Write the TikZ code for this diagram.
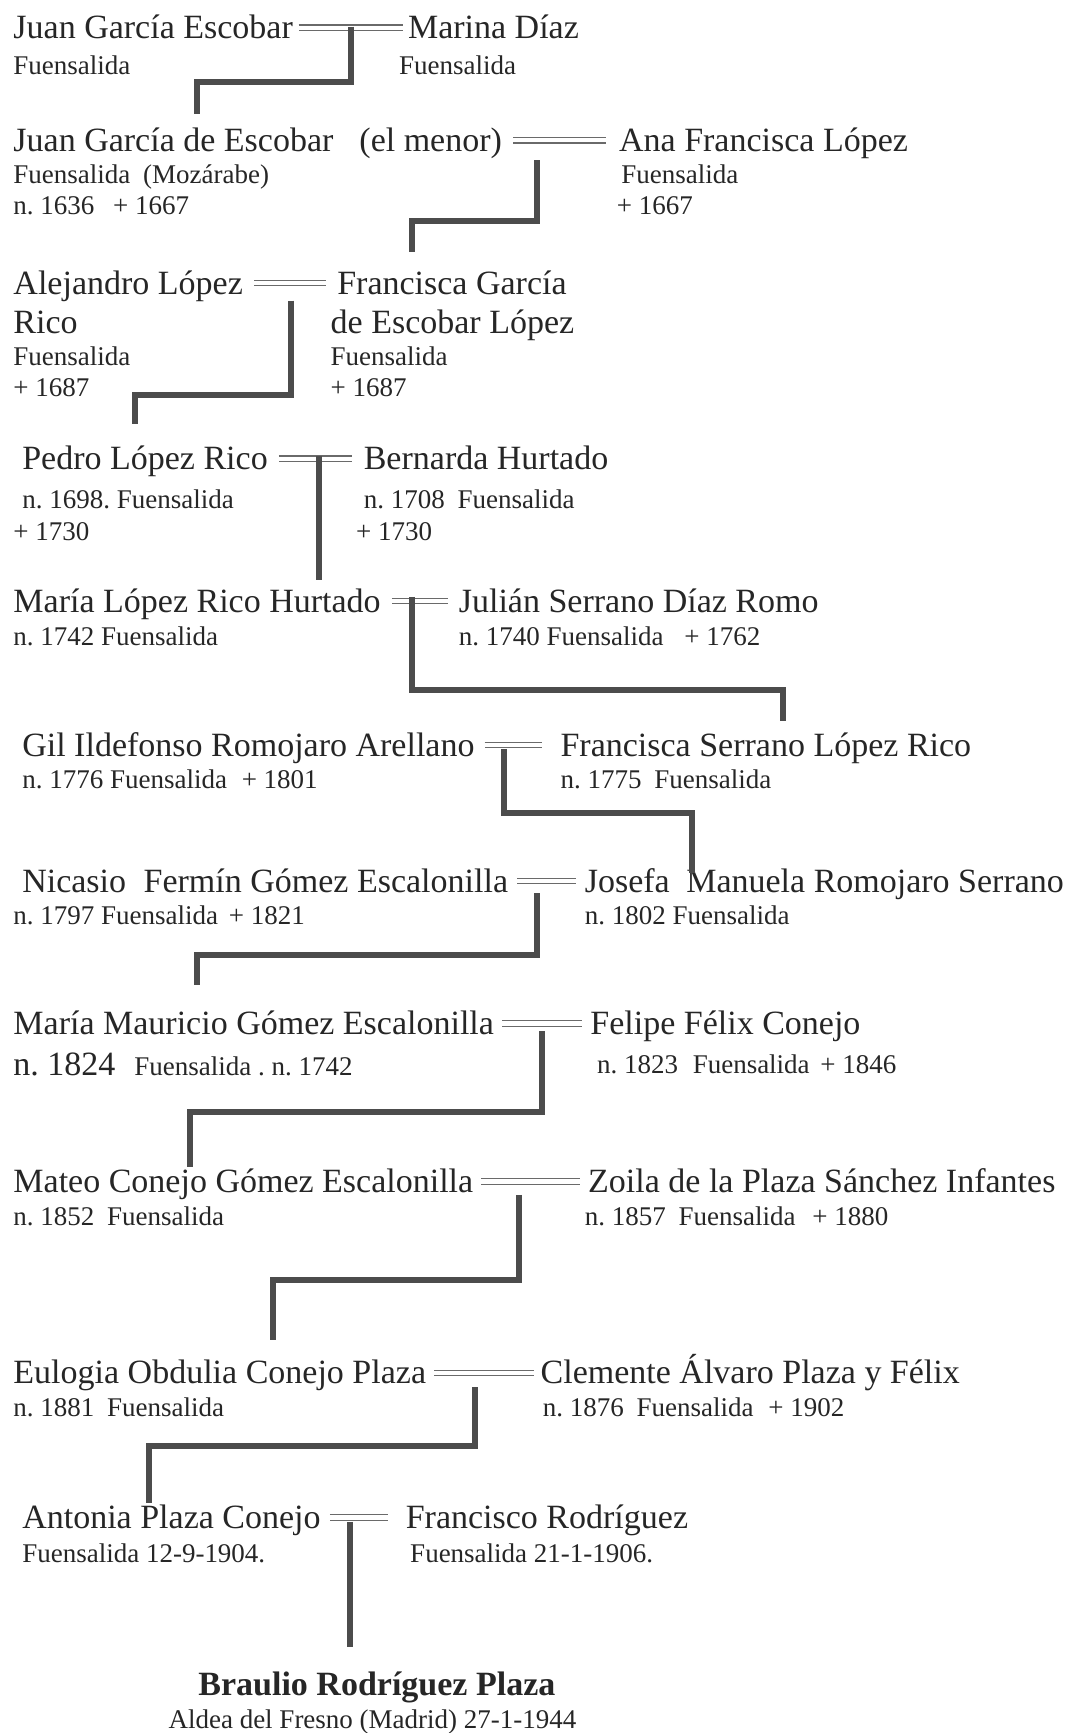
\documentclass[tikz,border=0pt]{standalone}
\usepackage{fontspec}
\setmainfont{Liberation Serif}
\frenchspacing
\definecolor{txt}{HTML}{262626}
\definecolor{lcol}{HTML}{6A6A6A}
\definecolor{ccol}{HTML}{4C4C4C}
\newcommand{\smf}{\fontsize{27}{32}\selectfont}
\tikzset{
  nm/.style={anchor=west, inner sep=0pt, font=\fontsize{34}{40}\selectfont, text height=22.4pt, text depth=0pt, text=txt},
  sm/.style={anchor=west, inner sep=0pt, font=\smf, text height=17.8pt, text depth=0pt, text=txt},
  bd/.style={inner sep=0pt, font=\fontsize{34}{40}\selectfont\bfseries, text height=22.4pt, text depth=0pt, text=txt},
  smc/.style={inner sep=0pt, font=\smf, text height=17.8pt, text depth=0pt, text=txt},
  marr/.style={draw=lcol, double=white, double distance=4.2pt, line width=1.1pt},
  conn/.style={draw=ccol, line width=6pt, line join=miter, line cap=butt},
}
\begin{document}
\begin{tikzpicture}[x=1.1054pt, y=-1.1054pt]
\fill[white] (0,0) rectangle (968,1568);
\useasboundingbox (0,0) rectangle (968,1568);

% Row 1
\node[nm] (p1a) at (12,25) {Juan García Escobar};
\node[sm] (p1a1) at (12,59) {Fuensalida};
\node[nm] (p1b) at (369,25) {Marina Díaz};
\node[sm] (p1b1) at (361,59) {Fuensalida};
\draw[marr, shorten <=5.5pt, shorten >=4.5pt] (p1a.east) -- (p1b.west);

% Row 2
\node[nm] (p2a) at (12,127) {Juan García de Escobar\hspace{17.5pt} (el menor)};
\node[sm] (p2a1) at (12,158) {Fuensalida\hspace{6pt} (Mozárabe)};
\node[sm] (p2a2) at (12,186) {n. 1636\hspace{12pt} + 1667};
\node[nm] (p2b) at (560,127) {Ana Francisca López};
\node[sm] (p2b1) at (562,158) {Fuensalida};
\node[sm] (p2b2) at (558,186) {+ 1667};
\draw[marr, shorten <=11pt, shorten >=13pt] (p2a.east) -- (p2b.west);

% Row 3
\node[nm] (p3a) at (12,256) {Alejandro López};
\node[nm] (p3a1) at (12,292) {Rico};
\node[sm] (p3a2) at (12,323) {Fuensalida};
\node[sm] (p3a3) at (12,351) {+ 1687};
\node[nm] (p3b) at (305,256) {Francisca García};
\node[nm] (p3b1) at (299,292) {de Escobar López};
\node[sm] (p3b2) at (299,323) {Fuensalida};
\node[sm] (p3b3) at (299,351) {+ 1687};
\draw[marr, shorten <=11pt, shorten >=11pt] (p3a.east) -- (p3b.west);

% Row 4
\node[nm] (p4a) at (20,415) {Pedro López Rico};
\node[sm] (p4a1) at (20,452) {n. 1698. Fuensalida};
\node[sm] (p4a2) at (12,481) {+ 1730};
\node[nm] (p4b) at (329,415) {Bernarda Hurtado};
\node[sm] (p4b1) at (329,452) {n. 1708\hspace{6pt} Fuensalida};
\node[sm] (p4b2) at (322,481) {+ 1730};
\draw[marr, shorten <=11pt, shorten >=12pt] (p4a.east) -- (p4b.west);

% Row 5
\node[nm] (p5a) at (12,544) {María López Rico Hurtado};
\node[sm] (p5a1) at (12,576) {n. 1742 Fuensalida};
\node[nm] (p5b) at (415,544) {Julián Serrano Díaz Romo};
\node[sm] (p5b1) at (415,576) {n. 1740 Fuensalida\hspace{14pt} + 1762};
\draw[marr, shorten <=11pt, shorten >=11pt] (p5a.east) -- (p5b.west);

% Row 6
\node[nm] (p6a) at (20,674) {Gil Ildefonso Romojaro Arellano};
\node[sm] (p6a1) at (20,705) {n. 1776 Fuensalida\hspace{8pt} + 1801};
\node[nm] (p6b) at (507,674) {Francisca Serrano López Rico};
\node[sm] (p6b1) at (507,705) {n. 1775\hspace{6pt} Fuensalida};
\draw[marr, shorten <=10pt, shorten >=18pt] (p6a.east) -- (p6b.west);

% Row 7
\node[nm] (p7a) at (20,797) {Nicasio\hspace{9pt} Fermín Gómez Escalonilla};
\node[sm] (p7a1) at (12,828) {n. 1797 Fuensalida\hspace{4pt} + 1821};
\node[nm] (p7b) at (529,797) {Josefa\hspace{8pt} Manuela Romojaro Serrano};
\node[sm] (p7b1) at (529,828) {n. 1802 Fuensalida};
\draw[marr, shorten <=9pt, shorten >=9pt] (p7a.east) -- (p7b.west);

% Row 8
\node[nm] (p8a) at (12,926) {María Mauricio Gómez Escalonilla};
\node[nm] (p8a1) at (12,963) {n. 1824\hspace{19pt}{\smf Fuensalida . n. 1742}};
\node[nm] (p8b) at (534,926) {Felipe Félix Conejo};
\node[sm] (p8b1) at (540,963) {n. 1823\hspace{8pt} Fuensalida\hspace{4pt} + 1846};
\draw[marr, shorten <=8pt, shorten >=8pt] (p8a.east) -- (p8b.west);

% Row 9
\node[nm] (p9a) at (12,1069) {Mateo Conejo Gómez Escalonilla};
\node[sm] (p9a1) at (12,1101) {n. 1852\hspace{6pt} Fuensalida};
\node[nm] (p9b) at (532,1069) {Zoila de la Plaza Sánchez Infantes};
\node[sm] (p9b1) at (529,1101) {n. 1857\hspace{6pt} Fuensalida\hspace{10pt} + 1880};
\draw[marr, shorten <=8pt, shorten >=8pt] (p9a.east) -- (p9b.west);

% Row 10
\node[nm] (p10a) at (12,1242) {Eulogia Obdulia Conejo Plaza};
\node[sm] (p10a1) at (12,1274) {n. 1881\hspace{6pt} Fuensalida};
\node[nm] (p10b) at (489,1242) {Clemente Álvaro Plaza y Félix};
\node[sm] (p10b1) at (491,1274) {n. 1876\hspace{6pt} Fuensalida\hspace{8pt} + 1902};
\draw[marr, shorten <=8pt, shorten >=6pt] (p10a.east) -- (p10b.west);

% Row 11
\node[nm] (p11a) at (20,1373) {Antonia Plaza Conejo};
\node[sm] (p11a1) at (20,1406) {Fuensalida 12-9-1904.};
\node[nm] (p11b) at (367,1373) {Francisco Rodríguez};
\node[sm] (p11b1) at (371,1406) {Fuensalida 21-1-1906.};
\draw[marr, shorten <=9pt, shorten >=18pt] (p11a.east) -- (p11b.west);

% Row 12
\node[bd] (p12) at (341,1524) {Braulio Rodríguez Plaza};
\node[smc] (p12a) at (337,1556) {Aldea del Fresno (Madrid) 27-1-1944};

% Connectors
\coordinate (m1) at (318,24);  \coordinate (j1) at (178,74);   \coordinate (e1) at (178,103);
\coordinate (m2) at (486,145); \coordinate (j2) at (373,200);  \coordinate (e2) at (373,228);
\coordinate (m3) at (263,272); \coordinate (j3) at (122,357);  \coordinate (e3) at (122,384);
\coordinate (m4) at (289,413); \coordinate (e4) at (289,525);
\coordinate (m5) at (373,540); \coordinate (j5) at (708,624);  \coordinate (e5) at (708,652);
\coordinate (m6) at (456,678); \coordinate (j6) at (626,736);  \coordinate (e6) at (626,790);
\coordinate (m7) at (486,808); \coordinate (j7) at (178,864);  \coordinate (e7) at (178,891);
\coordinate (m8) at (490,933); \coordinate (j8) at (172,1006); \coordinate (e8) at (172,1056);
\coordinate (m9) at (470,1081); \coordinate (j9) at (247,1158); \coordinate (e9) at (247,1212);
\coordinate (m10) at (430,1255); \coordinate (j10) at (135,1308); \coordinate (e10) at (135,1360);
\coordinate (m11) at (317,1377); \coordinate (e11) at (317,1490);

\draw[conn] (m1) |- (j1) -- (e1);
\draw[conn] (m2) |- (j2) -- (e2);
\draw[conn] (m3) |- (j3) -- (e3);
\draw[conn] (m4) -- (e4);
\draw[conn] (m5) |- (j5) -- (e5);
\draw[conn] (m6) |- (j6) -- (e6);
\draw[conn] (m7) |- (j7) -- (e7);
\draw[conn] (m8) |- (j8) -- (e8);
\draw[conn] (m9) |- (j9) -- (e9);
\draw[conn] (m10) |- (j10) -- (e10);
\draw[conn] (m11) -- (e11);
\end{tikzpicture}
\end{document}
